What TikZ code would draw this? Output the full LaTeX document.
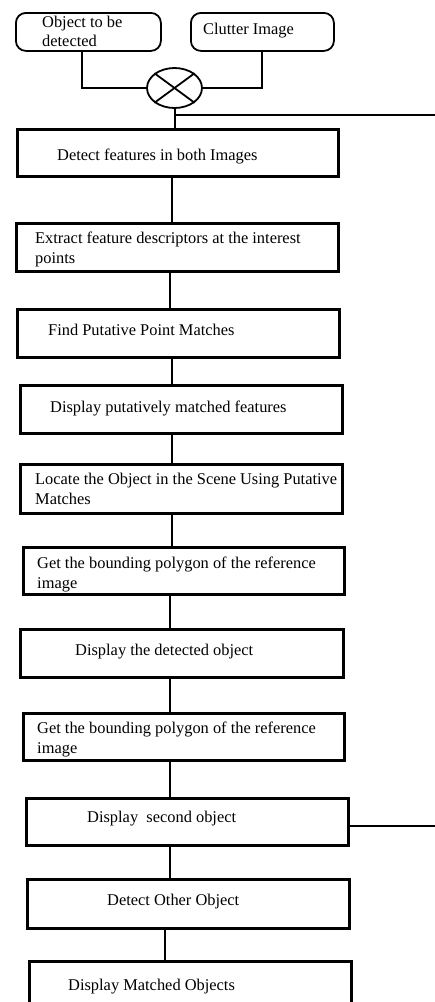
\documentclass[tikz,border=0pt]{standalone}
\usepackage{fontspec}
\setmainfont{Liberation Serif}
\usetikzlibrary{shapes.geometric}
\begin{document}
\begin{tikzpicture}[x=1pt,y=-1pt,
  boxnode/.style={draw, line width=2.6pt, rectangle, inner sep=0pt, anchor=north west},
  rbox/.style={draw, line width=1.8pt, rounded corners=10pt, rectangle, inner sep=0pt, anchor=north west},
  txt/.style={anchor=base west, inner sep=0pt, font=\fontsize{16.4}{20}\selectfont},
  conn/.style={line width=2pt},
]
\useasboundingbox (0,0) rectangle (435,1002);
\clip (0,0) rectangle (435,1002);

% x positions of connectors
\coordinate (xa) at (82,0);
\coordinate (xb) at (262,0);
\coordinate (x172) at (172,0);
\coordinate (x170) at (170,0);
\coordinate (x165) at (165,0);
\coordinate (fb1) at (435,115);
\coordinate (fb2) at (435,826);

% input boxes
\node[rbox, minimum width=145pt, minimum height=38pt] (r1) at (15,12) {};
\node[rbox, minimum width=143pt, minimum height=38pt] (r2) at (190,12) {};
\node[txt] (r1t1) at (42,27) {Object to be};
\node[txt] (r1t2) at (42,46) {detected};
\node[txt] (r2t) at (203,34) {Clutter Image};

% mixer
\node[draw, ellipse, line width=1.8pt, minimum width=55pt, minimum height=40pt, inner sep=0pt] (mix) at (174.5,88) {};
\draw[line width=1.8pt] (mix.north west) -- (mix.south east);
\draw[line width=1.8pt] (mix.north east) -- (mix.south west);

% process boxes
\node[boxnode, minimum width=321pt, minimum height=47pt] (b1) at (16,128) {};
\node[boxnode, minimum width=322pt, minimum height=48pt] (b2) at (15,222) {};
\node[boxnode, minimum width=322pt, minimum height=48pt] (b3) at (16,308) {};
\node[boxnode, minimum width=322pt, minimum height=48pt] (b4) at (19,384) {};
\node[boxnode, minimum width=322pt, minimum height=49pt] (b5) at (19,463) {};
\node[boxnode, minimum width=321pt, minimum height=47pt] (b6) at (22,546) {};
\node[boxnode, minimum width=323pt, minimum height=48pt] (b7) at (19,628) {};
\node[boxnode, minimum width=321pt, minimum height=47pt] (b8) at (22,712) {};
\node[boxnode, minimum width=322pt, minimum height=47pt] (b9) at (25,797) {};
\node[boxnode, minimum width=322pt, minimum height=49pt] (b10) at (26,878) {};
\node[boxnode, minimum width=322pt, minimum height=60pt] (b11) at (28,960) {};

% texts
\node[txt] (t1) at (57,160) {Detect features in both Images};
\node[txt] (t2a) at (35,243) {Extract feature descriptors at the interest};
\node[txt] (t2b) at (35,263) {points};
\node[txt] (t3) at (48,335) {Find Putative Point Matches};
\node[txt] (t4) at (50,412) {Display putatively matched features};
\node[txt] (t5a) at (35,484) {Locate the Object in the Scene Using Putative};
\node[txt] (t5b) at (35,504) {Matches};
\node[txt] (t6a) at (37,568) {Get the bounding polygon of the reference};
\node[txt] (t6b) at (37,588) {image};
\node[txt] (t7) at (75,655) {Display the detected object};
\node[txt] (t8a) at (37,733) {Get the bounding polygon of the reference};
\node[txt] (t8b) at (37,753) {image};
\node[txt] (t9) at (87,822) {Display\ \ second object};
\node[txt] (t10) at (107,905) {Detect Other Object};
\node[txt] (t11) at (68,990) {Display Matched Objects};

% connectors
\draw[conn] (r1.south -| xa) |- (mix.west);
\draw[conn] (r2.south -| xb) |- (mix.east);
\draw[conn] (mix.south) -- (b1.north -| mix.south);
\draw[conn] (mix.south |- fb1) -- (fb1);
\draw[conn] (b1.south -| x172) -- (b2.north -| x172);
\draw[conn] (b2.south -| x170) -- (b3.north -| x170);
\draw[conn] (b3.south -| x172) -- (b4.north -| x172);
\draw[conn] (b4.south -| x172) -- (b5.north -| x172);
\draw[conn] (b5.south -| x172) -- (b6.north -| x172);
\draw[conn] (b6.south -| x170) -- (b7.north -| x170);
\draw[conn] (b7.south -| x170) -- (b8.north -| x170);
\draw[conn] (b8.south -| x170) -- (b9.north -| x170);
\draw[conn] (b9.south -| x170) -- (b10.north -| x170);
\draw[conn] (b10.south -| x165) -- (b11.north -| x165);
\draw[conn] (b9.east |- fb2) -- (fb2);
\end{tikzpicture}
\end{document}
